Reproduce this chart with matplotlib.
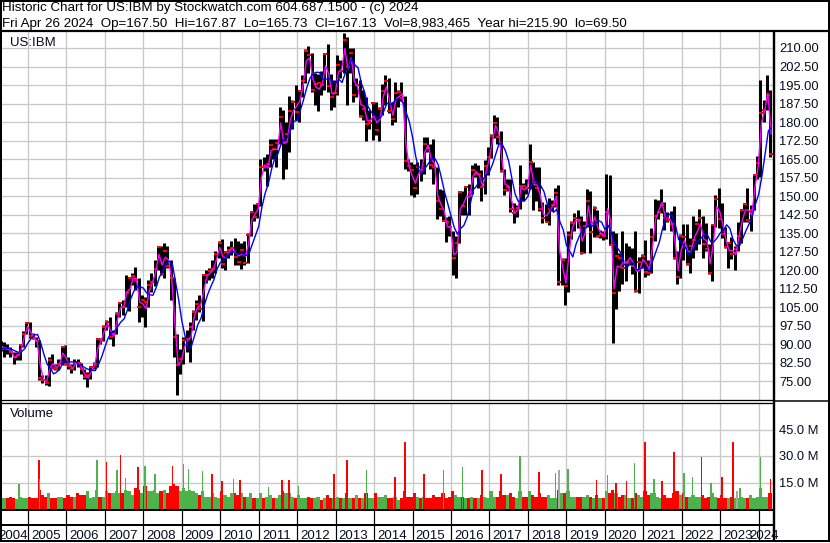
import numpy as np
import pandas as pd
import matplotlib
matplotlib.use('Agg')
import matplotlib.pyplot as plt

plt.rcParams['font.family'] = ['Liberation Sans', 'DejaVu Sans']

# ---- data (monthly bars, Apr 2004 .. Apr 2024) ----
first_month = '2004-04'
last_month = '2024-04'

high = [
    91.5, 91.0, 90.0, 89.0, 87.0, 87.0, 90.0, 95.5, 99.1,
    99.0, 94.5, 93.0, 91.8, 77.5, 77.5, 85.0, 86.0, 82.0, 84.0, 89.0, 89.9,
    85.0, 82.0, 84.0, 84.0, 82.5, 80.0, 79.0, 81.0, 83.0, 92.5, 92.5, 97.9,
    100.0, 100.9, 96.0, 103.0, 107.0, 108.0, 118.0, 117.0, 119.0, 121.5, 117.0, 110.0,
    109.0, 116.0, 119.0, 124.0, 130.0, 130.0, 130.9, 130.0, 124.0, 117.0, 94.0, 88.0,
    93.0, 96.0, 99.0, 104.0, 108.0, 110.0, 118.0, 120.0, 121.0, 124.0, 128.0, 132.0,
    132.8, 128.0, 130.0, 132.0, 133.0, 132.0, 131.0, 132.0, 135.0, 144.0, 147.0, 147.0,
    165.0, 166.0, 167.0, 173.0, 173.0, 173.0, 186.0, 185.0, 180.0, 190.5, 189.0, 194.9,
    193.0, 199.0, 209.5, 210.7, 208.0, 200.0, 199.5, 200.5, 208.0, 211.8, 199.5, 197.0,
    207.0, 205.0, 215.9, 214.5, 210.0, 210.0, 198.0, 197.0, 193.0, 190.0, 185.0, 187.8,
    188.0, 186.0, 195.6, 199.2, 197.7, 188.0, 196.4, 192.8, 196.1, 190.5, 165.0, 164.0,
    163.0, 164.0, 165.0, 173.8, 174.0, 171.0, 173.0, 162.0, 153.0, 152.4, 141.5, 141.8,
    136.0, 134.0, 152.0, 152.0, 153.8, 155.0, 162.6, 163.6, 162.5, 160.5, 164.8, 169.9,
    175.0, 182.8, 181.9, 176.3, 161.0, 157.0, 156.8, 147.3, 146.5, 162.5, 155.5, 157.0,
    171.1, 164.0, 162.0, 162.0, 147.5, 147.0, 149.3, 148.3, 153.4, 154.4, 125.0, 125.0,
    136.0, 140.0, 143.0, 144.4, 142.0, 140.0, 152.9, 152.0, 146.0, 144.5, 136.5, 135.9,
    158.8, 158.7, 136.0, 135.0, 126.9, 135.9, 131.2, 129.9, 129.2, 135.9, 125.3, 126.4,
    132.2, 124.0, 137.0, 148.7, 148.5, 152.8, 147.5, 143.6, 144.0, 146.0, 127.9, 134.5,
    138.8, 138.8, 133.0, 141.9, 139.8, 144.7, 141.9, 139.3, 130.5, 138.9, 150.5, 153.2,
    147.2, 137.4, 131.4, 133.3, 130.0, 139.5, 144.8, 147.2, 153.2, 146.5, 158.6, 166.3,
    196.9, 188.9, 199.2, 193.0,
]
low = [
    87.5, 85.0, 86.0, 85.0, 81.9, 83.5, 83.5, 89.0, 94.0,
    92.5, 92.0, 89.0, 75.5, 74.5, 73.5, 73.0, 80.0, 79.5, 79.5, 81.5, 81.5,
    80.0, 78.5, 79.5, 81.0, 78.0, 76.0, 72.7, 76.0, 80.0, 81.0, 90.0, 91.5,
    96.0, 92.0, 89.5, 94.0, 101.0, 102.0, 105.0, 103.5, 114.0, 112.0, 99.0, 101.0,
    97.0, 105.0, 111.0, 113.5, 120.0, 118.0, 117.0, 121.0, 108.0, 85.0, 69.5, 78.0,
    82.0, 87.0, 83.0, 96.0, 100.0, 103.0, 99.5, 115.0, 116.0, 117.0, 119.0, 125.0,
    121.0, 120.0, 125.0, 126.0, 122.0, 122.0, 120.6, 122.0, 123.0, 134.0, 140.0, 141.0,
    146.0, 160.0, 154.0, 162.0, 165.0, 162.0, 171.0, 157.0, 161.0, 168.0, 177.0, 181.0,
    180.0, 190.0, 196.0, 200.0, 192.0, 187.0, 184.5, 191.0, 193.0, 192.0, 184.8, 186.0,
    191.0, 198.0, 200.0, 187.0, 200.0, 188.0, 190.0, 182.0, 181.0, 172.5, 177.0, 172.7,
    174.6, 172.2, 183.0, 187.0, 183.5, 178.9, 180.0, 186.0, 188.6, 161.0, 160.0, 150.5,
    149.5, 151.0, 156.0, 159.0, 168.0, 161.0, 155.0, 140.6, 142.0, 140.0, 131.6, 134.0,
    118.0, 116.9, 131.0, 142.5, 142.5, 142.5, 151.0, 157.7, 153.5, 148.0, 151.0, 158.5,
    165.5, 173.5, 171.3, 159.6, 150.6, 152.0, 143.6, 139.1, 141.5, 145.0, 148.0, 151.0,
    153.0, 144.4, 148.0, 144.0, 139.1, 139.5, 138.3, 144.0, 145.5, 114.1, 114.1, 105.9,
    111.0, 132.5, 136.0, 137.0, 126.5, 127.0, 137.5, 126.8, 133.6, 133.5, 133.0, 132.3,
    132.5, 130.2, 90.6, 104.5, 111.8, 114.6, 115.5, 122.1, 118.5, 111.2, 110.8, 121.0,
    117.4, 118.0, 118.8, 131.7, 140.6, 143.0, 136.2, 139.5, 135.9, 124.7, 114.6, 116.9,
    124.2, 122.0, 118.8, 124.9, 128.4, 130.6, 125.1, 128.0, 118.6, 115.5, 137.6, 137.2,
    132.9, 128.9, 120.9, 124.6, 120.2, 128.0, 131.0, 139.4, 139.6, 135.9, 144.5, 157.0,
    157.9, 180.2, 185.0, 165.7,
]
close = [
    88.2, 88.6, 88.0, 87.0, 84.7, 85.7, 89.7, 94.2, 98.6,
    93.4, 92.6, 91.4, 76.4, 75.5, 74.2, 83.5, 80.6, 80.2, 81.9, 88.9, 82.2,
    81.3, 80.2, 82.5, 82.3, 79.9, 76.8, 77.4, 81.0, 81.9, 92.3, 91.9, 97.1,
    99.2, 93.1, 94.3, 102.2, 106.6, 105.3, 110.7, 116.7, 117.8, 116.1, 105.2, 108.1,
    107.1, 113.9, 115.1, 120.7, 129.4, 118.5, 128.0, 121.7, 117.0, 93.0, 81.6, 84.2,
    91.6, 92.0, 96.9, 103.2, 106.3, 104.4, 117.9, 118.0, 119.6, 120.6, 126.4, 130.9,
    122.4, 127.2, 128.3, 129.0, 125.3, 123.5, 128.4, 123.1, 134.1, 143.6, 141.5, 146.8,
    162.0, 161.9, 163.1, 170.6, 168.9, 171.6, 181.9, 171.9, 175.0, 184.6, 188.0, 183.9,
    192.6, 196.7, 208.7, 207.1, 192.9, 195.6, 196.0, 194.9, 207.5, 194.5, 190.1, 191.6,
    203.1, 200.8, 213.3, 202.5, 208.0, 191.1, 195.0, 182.3, 185.2, 179.2, 179.7, 187.6,
    176.7, 185.2, 192.5, 196.5, 184.4, 181.3, 191.7, 192.3, 189.8, 164.4, 162.2, 160.4,
    153.3, 161.9, 160.5, 171.3, 169.7, 162.7, 162.0, 147.9, 145.0, 140.1, 139.4, 137.6,
    124.8, 131.0, 151.5, 145.9, 153.7, 151.8, 160.6, 158.9, 158.9, 153.7, 162.2, 166.0,
    174.5, 179.8, 174.1, 160.3, 152.6, 153.8, 144.7, 143.0, 145.1, 154.1, 154.0, 153.4,
    163.7, 155.8, 153.4, 145.0, 141.3, 139.7, 144.9, 146.5, 151.2, 115.4, 124.3, 113.7,
    134.4, 139.2, 141.1, 140.3, 127.0, 137.9, 148.2, 135.5, 145.4, 133.7, 134.5, 134.0,
    143.7, 130.2, 110.9, 125.6, 124.9, 120.8, 122.9, 123.3, 121.7, 111.7, 123.5, 125.9,
    119.1, 118.9, 133.3, 141.9, 143.7, 146.6, 141.0, 140.3, 138.9, 125.1, 117.1, 133.7,
    133.6, 122.5, 130.0, 132.2, 138.8, 141.2, 130.8, 128.5, 118.8, 138.3, 148.9, 140.9,
    134.7, 129.3, 131.1, 126.4, 128.6, 133.8, 144.2, 146.8, 140.3, 144.6, 158.6, 163.6,
    183.7, 185.0, 191.0, 167.1,
]
# typical daily volume per month, millions
volume = [
    7, 6, 6, 7, 6, 5.5, 7, 6, 6,
    7, 6, 6.5, 11, 8, 7, 9, 6, 6, 7, 7, 6,
    8, 7, 7, 9, 8, 8, 10, 6, 7, 11, 7, 7,
    10, 9, 9, 10, 9, 9, 11, 10, 8, 12, 11, 9,
    13, 10, 10, 11, 9, 10, 11, 9, 13, 14, 13, 10,
    12, 10, 11, 10, 9, 8, 10, 7, 7, 9, 7, 6,
    10, 8, 7, 9, 9, 8, 9, 7, 7, 9, 6, 6,
    9, 6, 7, 8, 6, 6, 8, 10, 9, 9, 7, 6,
    8, 6, 6, 7, 6, 6, 7, 5, 6, 8, 6, 6,
    7, 6, 6, 9, 6, 6, 8, 6, 6, 9, 6, 6,
    9, 7, 7, 8, 6, 6, 7, 5, 6, 10, 7, 7,
    9, 7, 6, 7, 6, 6, 8, 7, 7, 9, 6, 7,
    10, 8, 7, 7, 6, 6, 7, 6, 6, 8, 7, 6,
    10, 7, 7, 10, 8, 8, 9, 7, 6, 10, 7, 7,
    10, 8, 7, 9, 7, 7, 8, 6, 6, 11, 9, 9,
    10, 7, 7, 7, 7, 7, 8, 7, 6, 8, 6, 6,
    10, 9, 11, 9, 7, 8, 8, 6, 6, 9, 8, 7,
    10, 8, 9, 9, 7, 6, 8, 6, 6, 9, 10, 8,
    9, 7, 7, 8, 7, 7, 8, 6, 7, 9, 7, 6,
    8, 6, 6, 7, 6, 6, 7, 6, 6, 8, 6, 7,
    12, 7, 7, 9,
]
# single heavy-volume days: (date as decimal year, millions, up/down)
spike_date = [2004.77, 2005.28, 2005.30, 2006.79, 2007.04, 2007.31, 2007.41, 2007.54,
              2007.86, 2008.04, 2008.30, 2008.76, 2009.04, 2009.17, 2009.54, 2009.78,
              2010.04, 2010.34, 2010.51, 2011.25, 2011.60, 2011.78, 2012.03,
              2012.95, 2013.30, 2013.80, 2014.55, 2014.80, 2015.30, 2015.80, 2016.30,
              2016.80, 2017.30, 2017.80,
              2018.29, 2018.72, 2018.81, 2019.04, 2019.78, 2020.07, 2020.29, 2020.56,
              2020.77, 2021.05, 2021.28, 2021.49, 2021.79, 2022.05, 2022.28, 2022.51,
              2022.76, 2023.05, 2023.33, 2023.43, 2023.52, 2024.05, 2024.31]
spike_vol = [14.0, 28.0, 16.8, 28.0, 26.5, 21.9, 30.8, 17.6,
             23.7, 24.1, 19.6, 24.1, 25.2, 22.4, 21.3, 19.6,
             15.7, 16.8, 16.3, 12.3, 16.3, 16.3, 12.9,
             20.0, 28.0, 22.0, 18.0, 38.0, 20.0, 22.0, 24.0,
             22.0, 20.0, 30.0,
             20.9, 20.4, 21.9, 22.4, 16.3, 19.1, 14.8, 15.9,
             26.0, 38.1, 16.8, 15.6, 32.1, 20.4, 18.1, 29.7,
             14.6, 18.1, 37.7, 10.3, 12.0, 29.7, 16.8]
spike_up = ['g', 'r', 'g', 'g', 'r', 'g', 'r', 'g',
            'r', 'g', 'g', 'r', 'g', 'g', 'g', 'r',
            'r', 'g', 'r', 'g', 'r', 'r', 'g',
            'r', 'r', 'g', 'r', 'r', 'r', 'g', 'g',
            'r', 'r', 'g',
            'r', 'g', 'n', 'g', 'r', 'g', 'r', 'r',
            'g', 'r', 'g', 'r', 'r', 'g', 'g', 'r',
            'g', 'r', 'r', 'n', 'g', 'g', 'r']

price_ticks = [75, 82.5, 90, 97.5, 105, 112.5, 120, 127.5, 135, 142.5,
               150, 157.5, 165, 172.5, 180, 187.5, 195, 202.5, 210]
vol_ticks = [15, 30, 45]
years = list(range(2004, 2025))

header1 = 'Historic Chart for US:IBM by Stockwatch.com 604.687.1500 - (c) 2024'
header2 = ('Fri Apr 26 2024  Op=167.50  Hi=167.87  Lo=165.73  Cl=167.13  '
           'Vol=8,983,465  Year hi=215.90  lo=69.50')

# ---- layout helpers ----
W, H = 830, 543
px = 0.72  # one pixel in points at dpi 100


def box(x0, y0, x1, y1):
    return [x0 / W, 1 - y1 / H, (x1 - x0) / W, (y1 - y0) / H]


RED, GREEN, GRAY = '#ff0000', '#4cb24c', '#a8a8a8'
GRID = '#c8c8c8'

months = pd.period_range(first_month, last_month, freq='M')
t = np.array([p.year + (p.month - 0.5) / 12 for p in months])
df = pd.DataFrame({'t': t, 'high': high, 'low': low, 'close': close, 'vol': volume})
df['typ'] = (df['high'] + df['low'] + df['close']) / 3
df['ma_long'] = df['close'].rolling(5, min_periods=1).mean()

x_left = 2005 - 27 / 38.51
x_right = x_left + 773 / 38.51

fig = plt.figure(figsize=(W / 100, H / 100), dpi=100)

# price panel
ax = fig.add_axes(box(1, 31, 773, 400))
ax.set_xlim(x_left, x_right)
ax.set_ylim(67.47, 216.88)
ax.set_xticks(years[1:])
ax.set_yticks(price_ticks)
ax.set_yticklabels(['%.2f' % v for v in price_ticks])
ax.yaxis.tick_right()
ax.tick_params(axis='y', length=0, pad=6 * px, labelsize=9.3, labelcolor='#0a0a20')
ax.tick_params(axis='x', length=0, labelbottom=False)
ax.grid(True, color=GRID, lw=1.3 * px)
ax.set_axisbelow(True)
for s in ax.spines.values():
    s.set_visible(False)
ax.vlines(df['t'], df['low'], df['high'], color='black', lw=3.0 * px, zorder=2)
ax.plot(df['t'] + 0.025, df['close'], ls='none', marker='_', ms=3, mew=2 * px,
        color=RED, zorder=3)
ax.plot(df['t'] + 0.03, df['typ'], color='#ff00ff', lw=1.4 * px, zorder=4)
ax.plot(df['t'] + 1 / 24, df['ma_long'], color='#0000ff', lw=1.4 * px, zorder=5)
ax.text(9 / 772, 1 - 15 / 369, 'US:IBM', transform=ax.transAxes, fontsize=9.5,
        va='baseline', ha='left', color='#0a0a20')

# volume panel
axv = fig.add_axes(box(1, 403, 773, 509))
axv.set_xlim(x_left, x_right)
axv.set_ylim(0, 60)
axv.set_xticks(years[1:])
axv.set_yticks(vol_ticks)
axv.set_yticklabels(['%.1f M' % v for v in vol_ticks])
axv.yaxis.tick_right()
axv.tick_params(axis='y', length=0, pad=6 * px, labelsize=9.3, labelcolor='#0a0a20')
axv.tick_params(axis='x', length=0, labelbottom=False)
axv.grid(True, color=GRID, lw=1.3 * px)
axv.set_axisbelow(True)
for s in axv.spines.values():
    s.set_visible(False)
up = df['close'].diff().fillna(0) >= 0
axv.bar(df['t'], df['vol'], width=1 / 12, color=np.where(up, GREEN, RED), lw=0, zorder=2)
spike_col = [{'g': GREEN, 'r': RED, 'n': GRAY}[c] for c in spike_up]
axv.bar(spike_date, spike_vol, width=1.6 / 38.51, color=spike_col, lw=0, zorder=3)
axv.text(9 / 772, 1 - 14 / 106, 'Volume', transform=axv.transAxes, fontsize=9.5,
         va='baseline', ha='left', color='#0a0a20')

# year label strip
axx = fig.add_axes(box(1, 509, 773, 541))
axx.set_xlim(x_left, x_right)
axx.set_ylim(0, 1)
axx.axis('off')
axx.vlines(years[1:], 0, 1, color='black', lw=1.2 * px)
axx.axhline(0.5, color='black', lw=2 * px)
for y in years:
    a, b = max(y, x_left), min(y + 1, x_right)
    axx.text((a + b) / 2 - 0.04, 0.06, str(y), fontsize=9.5, ha='center',
             va='baseline', color='#0a0a20')

# frame lines and header
fr = fig.add_axes([0, 0, 1, 1], facecolor='none', zorder=10)
fr.set_xlim(0, W)
fr.set_ylim(H, 0)
fr.axis('off')
k = dict(color='black', solid_capstyle='butt')
fr.plot([0.8, 0.8], [0, 541], lw=2 * px, **k)
fr.plot([828.8, 828.8], [0, 541], lw=2 * px, **k)
fr.plot([0, W], [0.8, 0.8], lw=2 * px, **k)
fr.plot([0, W], [30.5, 30.5], lw=2.2 * px, **k)
fr.plot([773.5, 773.5], [30, 541], lw=2.4 * px, **k)
fr.plot([0, 773], [400.2, 400.2], lw=1.3 * px, **k)
fr.plot([0, 773], [402.6, 402.6], lw=1.3 * px, **k)
fr.plot([773, W], [401.3, 401.3], lw=1.5 * px, **k)
fr.plot([0, 773], [509.5, 509.5], lw=2 * px, **k)
fr.plot([0, W], [540.5, 540.5], lw=2 * px, **k)
fr.text(2, 11.5, header1, fontsize=9.6, va='baseline', ha='left')
fr.text(2, 27, header2, fontsize=9.6, va='baseline', ha='left')

fig.savefig('out.png', dpi=100)
